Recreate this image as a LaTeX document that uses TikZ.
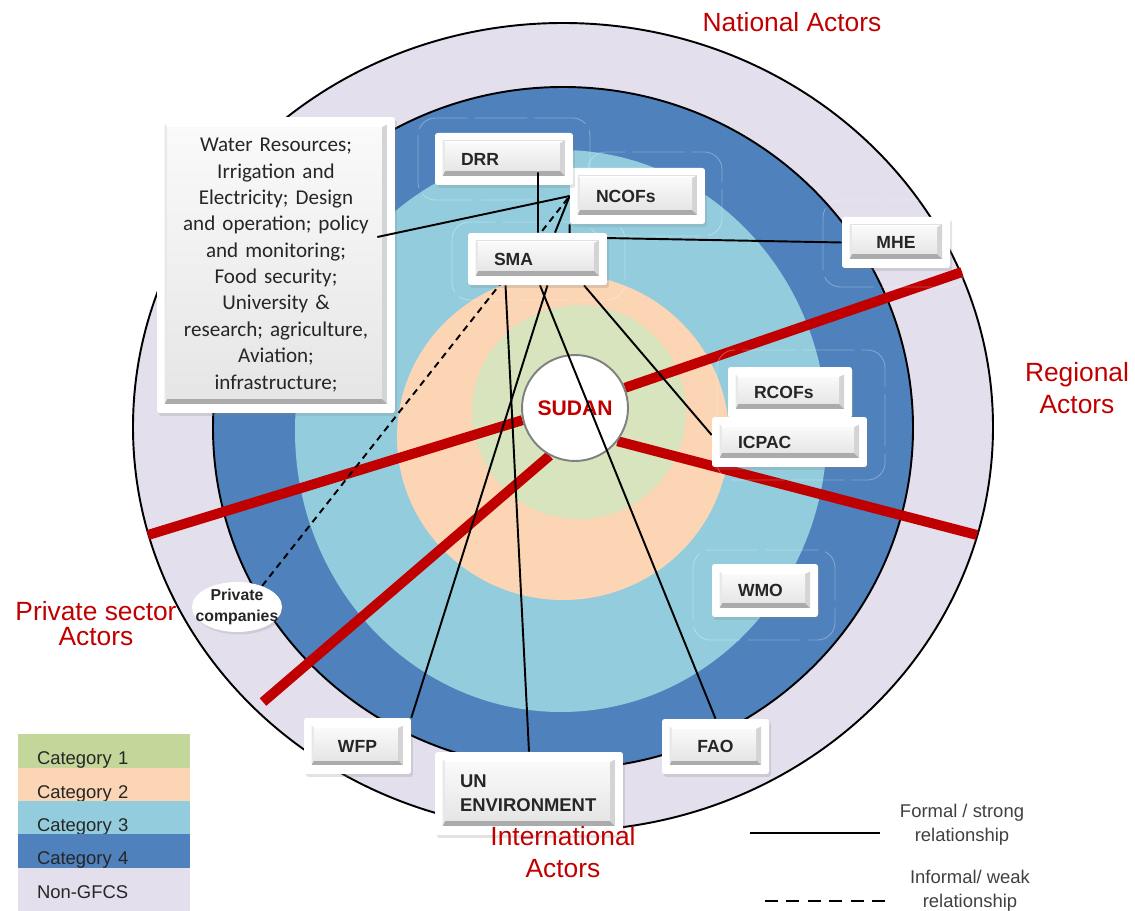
\documentclass[tikz,border=0pt]{standalone}
\usepackage{fontspec}
\setmainfont{Liberation Sans}
\newfontfamily\calibri{Carlito}
\usetikzlibrary{shapes.geometric}
\usetikzlibrary{shadows}

% --- colours ---
\definecolor{nongfcs}{HTML}{E4DFEC}
\definecolor{catfour}{HTML}{4F81BD}
\definecolor{catthree}{HTML}{93CDDD}
\definecolor{cattwo}{HTML}{FCD5B5}
\definecolor{catone}{HTML}{D7E4BD}
\definecolor{catonekey}{HTML}{C4D79B}
\definecolor{actorred}{HTML}{C00000}
\definecolor{inkgray}{HTML}{262626}

% --- layers ---
\pgfdeclarelayer{rings}
\pgfdeclarelayer{bars}
\pgfdeclarelayer{hub}
\pgfdeclarelayer{links}
\pgfdeclarelayer{front}
\pgfsetlayers{rings,bars,hub,links,main,front}

\begin{document}
\begin{tikzpicture}[
    x=0.02cm, y=-0.02cm,
    % --- styles ---
    ring/.style = {fill=#1, draw=black, line width=1.1pt},   % ring with outline
    redbar/.style = {color=actorred, line width=0.2cm},      % sector divider
    strong/.style = {color=black, line width=1.1pt},         % formal link
    weak/.style = {color=black, line width=1.1pt, dash pattern=on 3.8pt off 2.8pt}, % informal link
    hub/.style = {circle, fill=white, draw=black!50, line width=1.1pt, minimum size=2.12cm,
                  inner sep=0pt, text=actorred, font=\bfseries\fontsize{12}{14}\selectfont},
    actor/.style = {rectangle, fill=white, rounded corners=1.5pt, inner xsep=0.52cm, inner ysep=0pt,
                    text=inkgray, font=\bfseries\fontsize{10}{12}\selectfont,
                    drop shadow={opacity=0.22, shadow xshift=0.04cm, shadow yshift=-0.06cm, path picture={}},
                    path picture={
                      \coordinate (bv1) at ([shift={(0.15cm,-0.15cm)}]path picture bounding box.north west);
                      \coordinate (bv2) at ([shift={(-0.16cm,0.18cm)}]path picture bounding box.south east);
                      \coordinate (bv3) at ([shift={(0.05cm,-0.05cm)}]bv1);
                      \coordinate (bv4) at ([shift={(-0.1cm,0.1cm)}]bv2);
                      \fill[sharp corners, black!33] (bv1) rectangle (bv2);
                      \fill[sharp corners, black!17] (bv1 -| bv2) -- (bv2) -- (bv4) -- (bv3 -| bv4) -- cycle;
                      \fill[sharp corners, black!9] (bv1) -- (bv1 |- bv2) -- (bv3 |- bv4) -- (bv3) -- cycle;
                      \fill[sharp corners, white] (bv1) -- (bv1 -| bv2) -- (bv3 -| bv4) -- (bv3) -- cycle;
                      \shade[sharp corners, top color=black!2, bottom color=black!10] (bv3) rectangle (bv4);
                    }},
    privbox/.style = {ellipse, fill=white, minimum width=1.8cm, minimum height=1.0cm,
                      inner xsep=-0.22cm, inner ysep=-0.07cm, align=center, text=inkgray,
                      font=\bfseries\fontsize{9}{12}\selectfont,
                      drop shadow={opacity=0.2, shadow xshift=0.04cm, shadow yshift=-0.05cm}},
    halo/.style = {draw=white, draw opacity=0.3, line width=0.5pt, rounded corners=0.35cm,
                   dash pattern=on 30pt off 4pt},
    zonelabel/.style = {text=actorred, inner sep=0pt, align=center, font=\fontsize{15}{18}\selectfont},
    keybox/.style = {rectangle, fill=#1, minimum width=3.44cm, minimum height=0.68cm,
                     inner xsep=0.38cm, inner ysep=0pt, text width=2.68cm, align=left,
                     text height=0.55cm, text depth=0pt, text=inkgray,
                     font=\fontsize{10.5}{12}\selectfont},
    keynote/.style = {align=center, inner sep=0pt, text=black!75, font=\fontsize{10.5}{13.6}\selectfont}
    ]

    \useasboundingbox (0,0) rectangle (1135,911);

    % --- rings of categories ---
    \begin{pgfonlayer}{rings}
    \draw[ring=nongfcs] (563,427) ellipse (430 and 404);
    \draw[ring=catfour] (563,428) ellipse (350 and 341);
    \fill[catthree] (561,431) ellipse (266 and 281);
    \fill[cattwo] (563,437) ellipse (166 and 163);
    \fill[catone] (579,412) circle (107);
    \end{pgfonlayer}

    % --- centre ---
    \begin{pgfonlayer}{hub}
    \node[hub] (sudan) at (575,408) {SUDAN};
    \end{pgfonlayer}

    % --- sector dividers ---
    \coordinate (barne) at (962,272);
    \coordinate (barse) at (977,535);
    \coordinate (barw)  at (148,535);
    \coordinate (barsw) at (263,702);
    \begin{pgfonlayer}{bars}
    \draw[redbar] (sudan.22.8) -- (barne);
    \draw[redbar] (sudan.-38) -- (barse);
    \draw[redbar] (sudan.193) -- (barw);
    \draw[redbar] (sudan.242) -- (barsw);
    \end{pgfonlayer}

    % --- actors ---
    \node[actor, text width=4.32cm, inner xsep=0.22cm, minimum height=5.92cm, align=center,
          font=\calibri\fontsize{12}{15}\selectfont] (water) at (276,265)
        {Water Resources;\\ Irrigation and\\ Electricity; Design\\ and operation; policy\\
         and monitoring;\\ Food security;\\ University \&\\ research; agriculture,\\
         Aviation;\\ infrastructure;};
    \node[actor, text width=1.66cm, minimum height=1.12cm, align=left] (ncofs) at (637.5,196) {NCOFs};
    \node[actor, text width=1.72cm, minimum height=1.04cm, align=left] (drr) at (504,159) {DRR};
    \node[actor, text width=1.74cm, minimum height=1.04cm, align=left] (sma) at (537.5,259) {SMA};
    \node[actor, text width=1.12cm, minimum height=1.02cm, align=center] (mhe) at (896,242.5) {MHE};
    \node[actor, text width=1.44cm, minimum height=1.02cm, align=left] (rcofs) at (790,392.5) {RCOFs};
    \node[actor, text width=2.06cm, minimum height=1.00cm, align=left] (icpac) at (789.5,442) {ICPAC};
    \node[actor, text width=1.08cm, minimum height=1.06cm, align=left] (wmo) at (765,590.5) {WMO};
    \node[actor, text width=1.10cm, minimum height=1.10cm, align=center] (fao) at (715.5,746.5) {FAO};
    \node[actor, text width=1.10cm, minimum height=1.12cm, align=center] (wfp) at (357.5,746) {WFP};
    \node[actor, text width=2.76cm, inner xsep=0.5cm, minimum height=1.66cm, align=left,
          font=\bfseries\fontsize{10.5}{13.6}\selectfont] (unenv) at (529,793.5) {UN\\ ENVIRONMENT};
    \node[privbox] (private) at (237,607) {Private\\ companies};

    % --- glow outlines round the boxes ---
    \begin{pgfonlayer}{links}
    \draw[halo] (418,118) rectangle (590,200);
    \draw[halo] (588,152) rectangle (722,236);
    \draw[halo] (452,222) rectangle (625,300);
    \draw[halo] (823,200) rectangle (965,287);
    \draw[halo] (717,350) rectangle (885,480);
    \draw[halo] (693,550) rectangle (835,640);
    \end{pgfonlayer}

    % --- relationships ---
    \begin{pgfonlayer}{links}
    \draw[strong] ([xshift=0.35cm]sma.north) -- (ncofs.west);
    \draw[weak] (private.40) -- (ncofs.west);
    \draw[strong] (ncofs.south west) -- ++(0,13) -- (mhe.west);
    \draw[strong] ([xshift=-0.64cm]sma.south) -- (unenv.north);
    \draw[strong] ([xshift=0.2cm]sma.south) -- (wfp.north east);
    \draw[strong] ([xshift=0.05cm]sma.south) -- (fao.north);
    \draw[strong] ([xshift=0.93cm]sma.south) -- ([yshift=0.14cm]icpac.west);
    \end{pgfonlayer}
    \begin{pgfonlayer}{front}
    \draw[strong] ([xshift=-0.36cm,yshift=0.56cm]water.east) -- (ncofs.west);
    \draw[strong] ([xshift=0.68cm,yshift=0.26cm]drr.south) -- ([xshift=0.01cm]sma.north);
    \end{pgfonlayer}

    % --- sector names ---
    \node[zonelabel] (natlbl) at (792,22) {National Actors};
    \node[zonelabel] (reglbl) at (1077,388) {Regional\\ Actors};
    \node[zonelabel, font=\fontsize{15}{14.2}\selectfont] (privlbl) at (96,624) {Private sector\\ Actors};
    \node[zonelabel] (intlbl) at (563,852) {International\\ Actors};

    % --- key of categories ---
    \node[keybox=catonekey] (key1) at (104,751) {Category 1};
    \node[keybox=cattwo] (key2) at (104,784.5) {Category 2};
    \node[keybox=catthree] (key3) at (104,817.5) {Category 3};
    \node[keybox=catfour] (key4) at (104,851) {Category 4};
    \node[keybox=nongfcs, minimum height=0.86cm, text height=0.34cm] (key5) at (104,889.5) {Non-GFCS};

    % --- key of relationships ---
    \coordinate (solidA) at (750,833);
    \coordinate (solidB) at (880,833);
    \draw[strong] (solidA) -- (solidB);
    \node[keynote] (solidtxt) at (962,825) {Formal / strong\\ relationship};
    \coordinate (dashA) at (765,901);
    \coordinate (dashB) at (885,901);
    \draw[weak, dash pattern=on 7.4pt off 4.8pt] (dashA) -- (dashB);
    \node[keynote] (dashtxt) at (970,891) {Informal/ weak\\ relationship};
\end{tikzpicture}
\end{document}
